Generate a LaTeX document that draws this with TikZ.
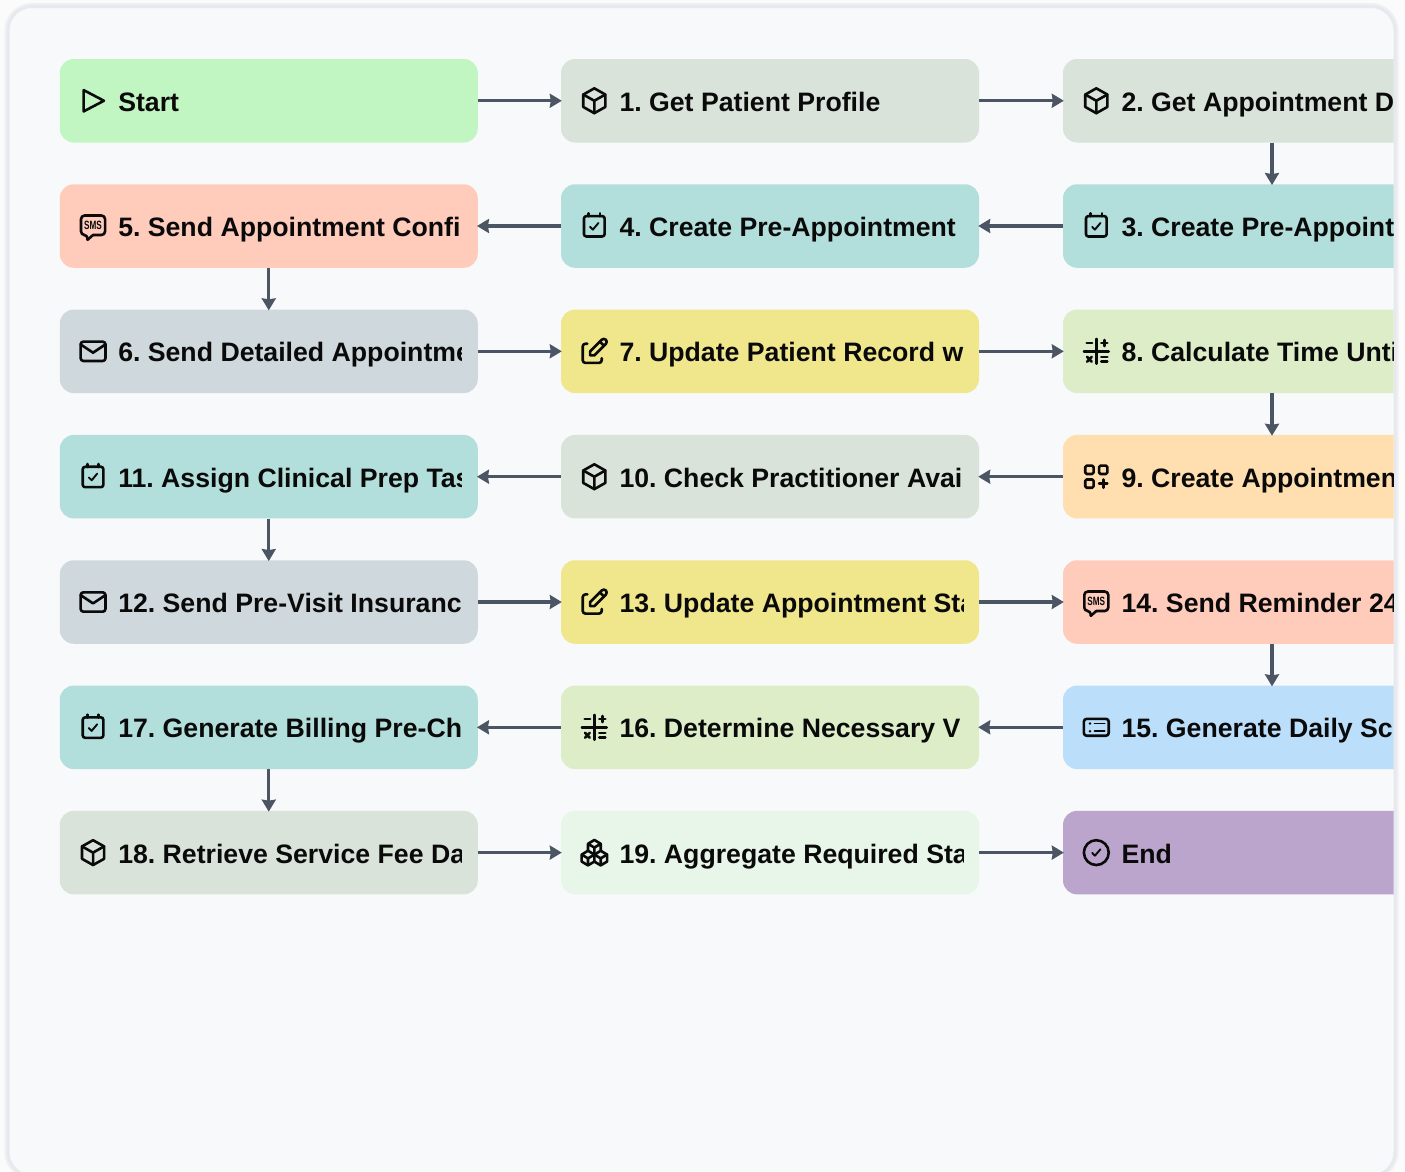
\documentclass[tikz,border=0pt]{standalone}
\usepackage{fontspec}
\setmainfont{Liberation Sans}
\usetikzlibrary{arrows.meta}

\definecolor{pagebg}{HTML}{FBFBFC}
\definecolor{panelbg}{HTML}{F8F9FA}
\definecolor{panelline}{HTML}{E8E9EE}
\definecolor{panelshade}{HTML}{EFF0F3}
\definecolor{flowline}{HTML}{4B5563}
\definecolor{inkblack}{HTML}{0A0A0A}
\definecolor{startgreen}{HTML}{C1F5C2}
\definecolor{sagegrey}{HTML}{D9E3DA}
\definecolor{tealbox}{HTML}{B2DFDB}
\definecolor{salmonbox}{HTML}{FFCBBB}
\definecolor{slatebox}{HTML}{CFD8DC}
\definecolor{khakibox}{HTML}{F0E68C}
\definecolor{limebox}{HTML}{DDEDC8}
\definecolor{peachbox}{HTML}{FFDEAF}
\definecolor{skybox}{HTML}{BBDEFB}
\definecolor{mintbox}{HTML}{E8F5E9}
\definecolor{purplebox}{HTML}{BBA5CC}

\tikzset{
    stepbox/.style={rounded corners=14pt,minimum width=418pt,minimum height=83.5pt,inner sep=0pt},
    steptext/.style={anchor=base west,inner sep=0pt,text=inkblack,font=\fontsize{26.67pt}{32pt}\selectfont\bfseries\frenchspacing},
    flow/.style={line width=3.2pt,flowline,shorten >=-1pt,-{Stealth[length=12pt,width=14pt,inset=1pt]}},
    iconline/.style={draw=inkblack,line width=2.6pt,line join=round,line cap=round},
    iconthin/.style={draw=inkblack,line width=1.9pt,line join=round,line cap=round},
    smstext/.style={inner sep=0pt,text=inkblack,xscale=0.68,transform shape,font=\fontsize{12pt}{12pt}\selectfont\bfseries}
}

% icons, in a 24 by 24 box
\newcommand{\iconplay}{\draw[iconline] (5.2,4.3)--(5.2,19.7)--(19.9,12)--cycle;}
\newcommand{\iconpackage}{
    \draw[iconline] (12,3)--(20,7.5)--(20,16.5)--(12,21)--(4,16.5)--(4,7.5)--cycle;
    \draw[iconline] (4,7.5)--(12,12)--(20,7.5) (12,12)--(12,21);
}
\newcommand{\iconcalendar}{
    \draw[iconline,rounded corners=2.5pt] (4.5,4.8) rectangle (19.5,19.6);
    \draw[iconline] (8,2.8)--(8,5) (16,2.8)--(16,5);
    \draw[iconthin] (9,12.6)--(11,14.6)--(15,9.8);
}
\newcommand{\iconsms}{
    \draw[iconline,rounded corners=3.5pt] (12,18.5)--(20.7,18.5)--(20.7,4.4)--(3.3,4.4)--(3.3,18.5)--(8,18.5)[sharp corners]--(8,22)--(12,18.5);
    \node[smstext] (\stepname-sms) at (12,11.5) {SMS};
}
\newcommand{\iconmail}{
    \draw[iconline,rounded corners=2.7pt] (3,5) rectangle (21,19);
    \draw[iconline] (3,7)--(12,13)--(21,7);
}
\newcommand{\iconedit}{
    \draw[iconline,rounded corners=2.7pt] (7,6.5)--(3.6,6.5)--(3.6,20.4)--(17.4,20.4)--(17.4,17);
    \draw[iconline] (9,12)--(17.4,3.6) .. controls (18.2,2.8) and (19.6,2.8) .. (20.4,3.6) .. controls (21.2,4.4) and (21.2,5.8) .. (20.4,6.6)--(12,15)--(9,15)--cycle;
    \draw[iconline] (16,5)--(19,8);
}
\newcommand{\iconmath}{
    \draw[iconline] (3,12)--(21,12) (12,3)--(12,21);
    \draw[iconline] (5,6)--(9,6) (15.6,6)--(20,6) (17.8,3.8)--(17.8,8.2);
    \draw[iconline] (5.3,16)--(8.7,19.6) (8.7,16)--(5.3,19.6);
    \draw[iconline] (15.6,16.1)--(20,16.1) (15.6,19.3)--(20,19.3);
}
\newcommand{\iconapps}{
    \draw[iconline,rounded corners=1.4pt] (4,4) rectangle (10,10);
    \draw[iconline,rounded corners=1.4pt] (14,4) rectangle (20,10);
    \draw[iconline,rounded corners=1.4pt] (4,14) rectangle (10,20);
    \draw[iconline] (14,17)--(20,17) (17,14)--(17,20);
}
\newcommand{\iconlist}{
    \draw[iconline,rounded corners=2.7pt] (3,5.9) rectangle (21,18.1);
    \fill[inkblack] (7.4,9.2) circle[radius=1] (7.4,14.8) circle[radius=1];
    \draw[iconthin] (10.8,9.2)--(18,9.2) (10.8,14.8)--(18,14.8);
}
\newcommand{\iconcheck}{
    \draw[iconline] (12,12) circle[radius=9];
    \draw[iconthin] (9,12.2)--(11,14.2)--(15,9.6);
}
\newcommand{\iconboxes}{
    \begin{scope}[shift={(1,1)},scale=0.92]
    \draw[iconline] (7,16.5)--++(-5,-3)--++(5,-3)--++(5,3)--++(0,5.5)--++(-5,3)--++(-5,-3)--++(0,-5.5);
    \draw[iconline] (7,16.5)--(7,22) (7,16.5)--(12,13.5);
    \draw[iconline] (17,16.5)--(12,13.5) (12,13.5)--++(5,-3)--++(5,3)--++(0,5.5)--++(-5,3)--++(-5,-3);
    \draw[iconline] (17,16.5)--(17,22) (17,16.5)--(22,13.5);
    \draw[iconline] (12,13.5)--(12,8)--(7,5)--(12,2)--(17,5)--(17,10.5) (7,5)--(7,10.5) (12,8)--(17,5);
    \end{scope}
}

% #1 box name, #2 width left for the text, #3 text, #4 icon
\newcommand{\steplabel}[4]{
    \def\stepname{#1}
    \begin{scope}
        \clip (#1.north west) rectangle ([xshift=#2pt]#1.south west);
        \node[steptext] (#1-text) at ([shift={(58.5,10.5)}]#1.west) {#3};
    \end{scope}
    \begin{scope}[shift={([xshift=33.5pt]#1.west)},x=1.38pt,y=-1.38pt,shift={(-12,-12)}]
        #4
    \end{scope}
}

\begin{document}
\begin{tikzpicture}[x=1pt,y=-1pt]
    \useasboundingbox (0,0) rectangle (1405,1171);
    \fill[pagebg] (0,0) rectangle (1405,1171);

    % panel
    \draw[panelshade,line width=7pt,rounded corners=24pt] (8,6.5) rectangle (1395,1176);
    \draw[panelline,fill=panelbg,line width=3pt,rounded corners=24pt] (8,6.5) rectangle (1395,1176);

    % left column
    \node[stepbox,fill=startgreen] (start) at (268.75,100.75) {};
    \node[stepbox,fill=salmonbox] (s5) at (268.75,226) {};
    \node[stepbox,fill=slatebox] (s6) at (268.75,351.3) {};
    \node[stepbox,fill=tealbox] (s11) at (268.75,476.7) {};
    \node[stepbox,fill=slatebox] (s12) at (268.75,602) {};
    \node[stepbox,fill=tealbox] (s17) at (268.75,727.3) {};
    \node[stepbox,fill=sagegrey] (s18) at (268.75,852.6) {};

    % middle column
    \node[stepbox,fill=sagegrey] (s1) at (770,100.75) {};
    \node[stepbox,fill=tealbox] (s4) at (770,226) {};
    \node[stepbox,fill=khakibox] (s7) at (770,351.3) {};
    \node[stepbox,fill=sagegrey] (s10) at (770,476.7) {};
    \node[stepbox,fill=khakibox] (s13) at (770,602) {};
    \node[stepbox,fill=limebox] (s16) at (770,727.3) {};
    \node[stepbox,fill=mintbox] (s19) at (770,852.6) {};

    % right column, cut by the panel
    \begin{scope}
        \clip (0,0) rectangle (1393.5,1171);
        \node[stepbox,fill=sagegrey] (s2) at (1272,100.75) {};
        \node[stepbox,fill=tealbox] (s3) at (1272,226) {};
        \node[stepbox,fill=limebox] (s8) at (1272,351.3) {};
        \node[stepbox,fill=peachbox] (s9) at (1272,476.7) {};
        \node[stepbox,fill=salmonbox] (s14) at (1272,602) {};
        \node[stepbox,fill=skybox] (s15) at (1272,727.3) {};
        \node[stepbox,fill=purplebox] (finish) at (1272,852.6) {};
    \end{scope}

    \steplabel{start}{402}{Start}{\iconplay}
    \steplabel{s1}{402.5}{1. Get Patient Profile}{\iconpackage}
    \steplabel{s2}{330.5}{2. Get Appointment D}{\iconpackage}
    \steplabel{s3}{330.5}{3. Create Pre-Appoint}{\iconcalendar}
    \steplabel{s4}{402.5}{4. Create Pre-Appointment}{\iconcalendar}
    \steplabel{s5}{402}{5. Send Appointment Confi}{\iconsms}
    \steplabel{s6}{402}{6. Send Detailed Appointme}{\iconmail}
    \steplabel{s7}{402.5}{7. Update Patient Record w}{\iconedit}
    \steplabel{s8}{330.5}{8. Calculate Time Unti}{\iconmath}
    \steplabel{s9}{330.5}{9. Create Appointmen}{\iconapps}
    \steplabel{s10}{402.5}{10. Check Practitioner Avai}{\iconpackage}
    \steplabel{s11}{402}{11. Assign Clinical Prep Tas}{\iconcalendar}
    \steplabel{s12}{402}{12. Send Pre-Visit Insuranc}{\iconmail}
    \steplabel{s13}{402.5}{13. Update Appointment Sta}{\iconedit}
    \steplabel{s14}{330.5}{14. Send Reminder 24}{\iconsms}
    \steplabel{s15}{330.5}{15. Generate Daily Sc}{\iconlist}
    \steplabel{s16}{402.5}{16. Determine Necessary V}{\iconmath}
    \steplabel{s17}{402}{17. Generate Billing Pre-Ch}{\iconcalendar}
    \steplabel{s18}{402}{18. Retrieve Service Fee Da}{\iconpackage}
    \steplabel{s19}{402.5}{19. Aggregate Required Sta}{\iconboxes}
    \steplabel{finish}{330.5}{End}{\iconcheck}

    % connectors
    \draw[flow] (start.east)--(s1.west);
    \draw[flow] (s1.east)--(s2.west);
    \draw[flow] (s2.south)--(s3.north);
    \draw[flow] (s3.west)--(s4.east);
    \draw[flow] (s4.west)--(s5.east);
    \draw[flow] (s5.south)--(s6.north);
    \draw[flow] (s6.east)--(s7.west);
    \draw[flow] (s7.east)--(s8.west);
    \draw[flow] (s8.south)--(s9.north);
    \draw[flow] (s9.west)--(s10.east);
    \draw[flow] (s10.west)--(s11.east);
    \draw[flow] (s11.south)--(s12.north);
    \draw[flow] (s12.east)--(s13.west);
    \draw[flow] (s13.east)--(s14.west);
    \draw[flow] (s14.south)--(s15.north);
    \draw[flow] (s15.west)--(s16.east);
    \draw[flow] (s16.west)--(s17.east);
    \draw[flow] (s17.south)--(s18.north);
    \draw[flow] (s18.east)--(s19.west);
    \draw[flow] (s19.east)--(finish.west);
\end{tikzpicture}
\end{document}
